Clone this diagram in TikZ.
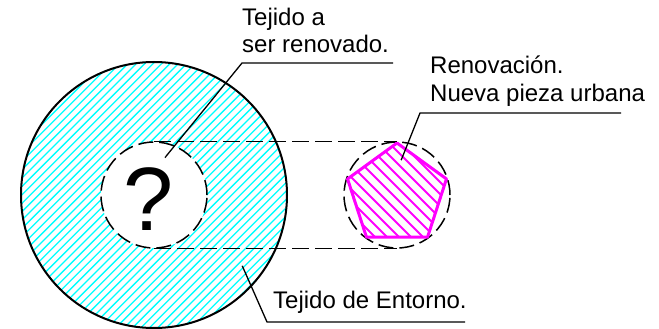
\documentclass[tikz,border=0pt]{standalone}
\usepackage{fontspec}
\setmainfont{Liberation Sans}
\usetikzlibrary{arrows.meta}
\definecolor{hcyan}{RGB}{0,255,255}
\definecolor{hmag}{RGB}{255,0,255}
\begin{document}
\begin{tikzpicture}[x=1pt,y=-1pt,
  lbl/.style={font=\fontsize{24}{28}\selectfont, inner sep=0pt, anchor=base west},
  leader/.style={line width=1.3pt, -{Stealth[length=8pt,width=2.6pt]}},
  dline/.style={line width=1.3pt, dash pattern=on 17pt off 6pt},
  dcirc/.style={circle, draw, line width=1.5pt, dash pattern=on 15pt off 6pt, minimum size=106pt, inner sep=0pt},
  cyanhatch/.style={hcyan, line width=1.3pt},
  maghatch/.style={hmag, line width=2pt},
]
\useasboundingbox (0,0) rectangle (659,329);
% surrounding tissue hatching
\begin{scope}
  \clip (154,195) circle (133);
  \foreach \c in {0,8.4,...,680} \draw[cyanhatch] (\c,-10) -- ({\c-350},340);
\end{scope}
\fill[white] (154,195) circle (53);
\node[circle, draw, line width=2pt, minimum size=266pt, inner sep=0pt] (big) at (154,195) {};
\node[dcirc] (in) at (154,195) {};
\node[dcirc] (out) at (397,195) {};
% pentagon
\foreach \i/\a in {1/90,2/162,3/234,4/306,5/18}
  \coordinate (p\i) at ({397+52*cos(\a)},{195-52*sin(\a)});
\begin{scope}
  \clip (p1) -- (p2) -- (p3) -- (p4) -- (p5) -- cycle;
  \foreach \c in {-20,-8,...,500} \draw[maghatch] (\c,130) -- ({\c+130},260);
\end{scope}
\draw[hmag, line width=3pt, line join=round] (p1) -- (p2) -- (p3) -- (p4) -- (p5) -- cycle;
% projection lines
\draw[dline] (in.north) -- (out.north);
\draw[dline] (in.south) -- (out.south);
% question mark
\node[font=\fontsize{90}{100}\selectfont, inner sep=0pt, anchor=base] (q) at (149,230) {?};
% labels
\node[lbl] (l1a) at (242,26) {Tejido a};
\node[lbl] (l1b) at (242,53) {ser renovado.};
\node[lbl] (l2a) at (430,74) {Renovación.};
\node[lbl] (l2b) at (430,102) {Nueva pieza urbana};
\node[lbl] (l3) at (273,308) {Tejido de Entorno.};
% leaders
\coordinate (a1) at (393,63); \coordinate (b1) at (242,63); \coordinate (c1) at (163,160);
\coordinate (a2) at (621,113); \coordinate (b2) at (420,113); \coordinate (c2) at (400,163);
\coordinate (a3) at (465,322); \coordinate (b3) at (267,322); \coordinate (c3) at (241,263);
\draw[leader] (a1) -- (b1) -- (c1);
\draw[leader] (a2) -- (b2) -- (c2);
\draw[leader] (a3) -- (b3) -- (c3);
\end{tikzpicture}
\end{document}
